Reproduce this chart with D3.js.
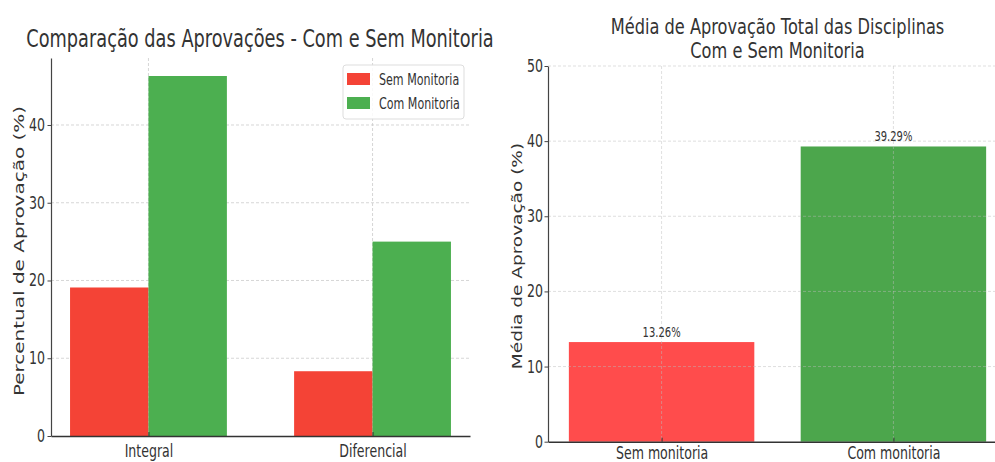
<!DOCTYPE html>
<html>
<head>
<meta charset="utf-8">
<script src="https://cdn.jsdelivr.net/npm/d3@7"></script>
<style>
  body { margin: 0; background: #fff; }
  text { font-family: "DejaVu Sans", sans-serif; fill: #333; }
</style>
</head>
<body>
<svg width="995" height="462"></svg>
<script>
// ============================ DATA ============================
const disciplinas = ["Integral", "Diferencial"];
const semMonitoria = [19.1, 8.33];
const comMonitoria = [46.3, 25.0];
const serieNomes = ["Sem Monitoria", "Com Monitoria"];

const grupos = ["Sem monitoria", "Com monitoria"];
const medias = [13.26, 39.29];

const ticksEsq = [0, 10, 20, 30, 40];
const ticksDir = [0, 10, 20, 30, 40, 50];
// ==============================================================

const SX = 0.74;   // horizontal text squeeze (image looks condensed)
const svg = d3.select("svg");

function htext(g, x, y, str, size, anchor, sx) {
  return g.append("text")
    .attr("transform", "translate(" + x + "," + y + ") scale(" + (sx || SX) + ",1)")
    .attr("text-anchor", anchor)
    .style("font-size", size + "px")
    .text(str);
}

function vtext(g, x, y, str, size) {
  return g.append("text")
    .attr("transform", "translate(" + x + "," + y + ") scale(" + SX + ",1) rotate(-90)")
    .attr("text-anchor", "middle")
    .style("font-size", size + "px")
    .text(str);
}

// ==================== LEFT CHART: grouped bars ====================
var L = { left: 51, right: 470, top: 58, bottom: 436 };
var w = 0.35;
var xl = d3.scaleLinear().domain([-0.435, 1.435]).range([L.left, L.right]);
var yl = d3.scaleLinear().domain([0, d3.max(comMonitoria) * 1.05]).range([L.bottom, L.top]);

var gl = svg.append("g");

// grid (behind bars)
gl.selectAll(".hg").data(ticksEsq.slice(1)).enter().append("line")
  .attr("x1", L.left).attr("x2", L.right)
  .attr("y1", d => yl(d)).attr("y2", d => yl(d))
  .attr("stroke", "#ccc").attr("stroke-width", 0.8).attr("stroke-dasharray", "3,2");
gl.selectAll(".vg").data(disciplinas).enter().append("line")
  .attr("x1", (d, i) => xl(i)).attr("x2", (d, i) => xl(i))
  .attr("y1", L.top).attr("y2", L.bottom)
  .attr("stroke", "#ccc").attr("stroke-width", 0.8).attr("stroke-dasharray", "3,2");

var coresL = ["#f44336", "#4caf50"];
[semMonitoria, comMonitoria].forEach(function(serie, s) {
  gl.selectAll(".b" + s).data(serie).enter().append("rect")
    .attr("x", (d, i) => xl(i + (s - 1) * w))
    .attr("width", xl(w) - xl(0))
    .attr("y", d => yl(d))
    .attr("height", d => yl(0) - yl(d))
    .attr("fill", coresL[s]);
});

// axes
var axL = gl.append("g").attr("transform", "translate(" + L.left + ",0)")
  .call(d3.axisLeft(yl).tickValues(ticksEsq).tickSizeInner(3.5).tickSizeOuter(0));
axL.select(".domain").attr("stroke", "#444").attr("stroke-width", 1.2);
axL.selectAll(".tick line").attr("stroke", "#444");
axL.selectAll(".tick text").attr("x", -6 / SX).attr("transform", "scale(" + SX + ",1)")
  .style("font-size", "17px").attr("fill", "#333");

var axLb = gl.append("g").attr("transform", "translate(0," + L.bottom + ")")
  .call(d3.axisBottom(xl).tickValues([0, 1]).tickFormat((d) => disciplinas[d])
    .tickSizeInner(-4).tickSizeOuter(0).tickPadding(9));
axLb.select(".domain").attr("stroke", "#333").attr("stroke-width", 1.4);
axLb.selectAll(".tick line").attr("stroke", "#333");
axLb.selectAll(".tick text").attr("transform", "scale(" + SX + ",1)")
  .style("font-size", "17px").attr("fill", "#333");

htext(gl, 260, 47, "Comparação das Aprovações - Com e Sem Monitoria", 24, "middle");
vtext(gl, 24, 251, "Percentual de Aprovação (%)", 20);

// legend
var lg = gl.append("g").attr("transform", "translate(343,65)");
lg.append("rect").attr("width", 121).attr("height", 54).attr("rx", 3)
  .attr("fill", "#fff").attr("fill-opacity", 0.85).attr("stroke", "#ddd");
serieNomes.forEach(function(nome, i) {
  lg.append("rect").attr("x", 4).attr("y", 8 + i * 24).attr("width", 23).attr("height", 12)
    .attr("fill", coresL[i]);
  htext(lg, 36, 20 + i * 24, nome, 15, "start");
});

// ==================== RIGHT CHART: averages ====================
var R = { left: 548, right: 1007, top: 66, bottom: 441.7 };
var xr = d3.scaleLinear().domain([-0.49, 1.49]).range([R.left, R.right]);
var yr = d3.scaleLinear().domain([0, 50]).range([R.bottom, R.top]);
var gr = svg.append("g");

var coresR = ["rgba(255,0,0,0.7)", "rgba(0,128,0,0.7)"];
gr.selectAll(".rb").data(medias).enter().append("rect")
  .attr("x", (d, i) => xr(i - 0.4))
  .attr("width", xr(0.8) - xr(0))
  .attr("y", d => yr(d))
  .attr("height", d => yr(0) - yr(d))
  .attr("fill", (d, i) => coresR[i]);

// grid on top
gr.selectAll(".hg").data(ticksDir.slice(1)).enter().append("line")
  .attr("x1", R.left).attr("x2", R.right)
  .attr("y1", d => yr(d)).attr("y2", d => yr(d))
  .attr("stroke", "#bbb").attr("stroke-opacity", 0.6).attr("stroke-width", 0.8).attr("stroke-dasharray", "3,2");
gr.selectAll(".vg").data(grupos).enter().append("line")
  .attr("x1", (d, i) => xr(i)).attr("x2", (d, i) => xr(i))
  .attr("y1", R.top).attr("y2", R.bottom)
  .attr("stroke", "#bbb").attr("stroke-opacity", 0.6).attr("stroke-width", 0.8).attr("stroke-dasharray", "3,2");

gr.selectAll(".vl").data(medias).enter().append("text")
  .attr("transform", (d, i) => "translate(" + xr(i) + "," + (yr(d) - 5) + ") scale(" + SX + ",1)")
  .attr("text-anchor", "middle").style("font-size", "13.5px")
  .text(d => d.toFixed(2) + "%");

var axR = gr.append("g").attr("transform", "translate(" + R.left + ",0)")
  .call(d3.axisLeft(yr).tickValues(ticksDir).tickSizeInner(3.5).tickSizeOuter(0));
axR.select(".domain").attr("stroke", "#444").attr("stroke-width", 1.2);
axR.selectAll(".tick line").attr("stroke", "#444");
axR.selectAll(".tick text").attr("x", -5 / SX).attr("transform", "scale(" + SX + ",1)")
  .style("font-size", "17px").attr("fill", "#333");

var axRb = gr.append("g").attr("transform", "translate(0," + R.bottom + ")")
  .call(d3.axisBottom(xr).tickValues([0, 1]).tickFormat((d) => grupos[d])
    .tickSizeInner(-4).tickSizeOuter(0).tickPadding(5));
axRb.select(".domain").attr("stroke", "#333").attr("stroke-width", 1.4);
axRb.selectAll(".tick line").attr("stroke", "#333");
axRb.selectAll(".tick text").attr("transform", "scale(" + SX + ",1)")
  .style("font-size", "17px").attr("fill", "#333");

htext(gr, 777.5, 34, "Média de Aprovação Total das Disciplinas", 20.5, "middle", 0.79);
htext(gr, 777.5, 58, "Com e Sem Monitoria", 20.5, "middle", 0.79);
vtext(gr, 522, 256, "Média de Aprovação (%)", 18.5);
</script>
</body>
</html>
